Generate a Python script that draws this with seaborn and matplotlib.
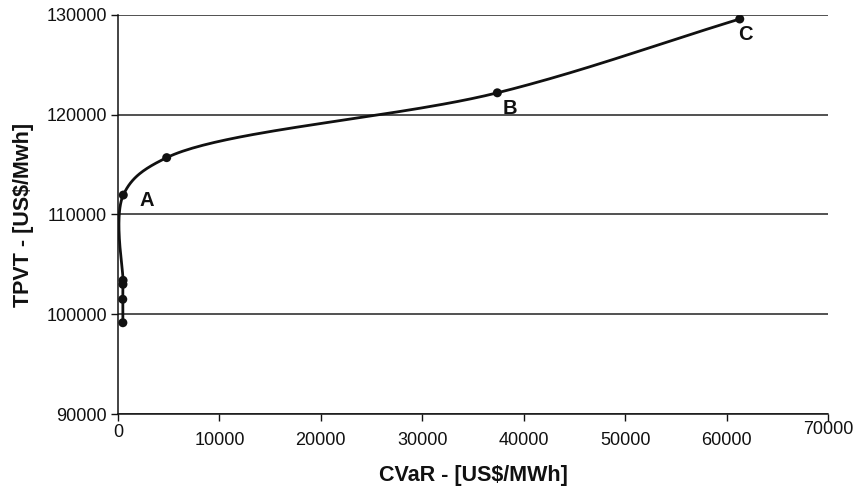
import numpy as np
import pandas as pd
import seaborn as sns
import matplotlib
matplotlib.use("Agg")
from matplotlib import pyplot as plt
from matplotlib.transforms import ScaledTranslation

# values
cvar = [480, 470, 490, 500, 520, 4800, 37400, 61300]
tpvt = [99150, 101500, 103000, 103400, 111950, 115700, 122200, 129600]
point_names = {4: "A", 6: "B", 7: "C"}
x_ticks = [0, 10000, 20000, 30000, 40000, 50000, 60000, 70000]
y_ticks = [90000, 100000, 110000, 120000, 130000]

sns.set_theme(style="white")
plt.rcParams['font.family'] = ['Liberation Sans', 'DejaVu Sans']

XMAX, YMIN, YMAX = 70000, 90000, 130000
W_PX, H_PX = 710, 399   # plot area in pixels, smoothing is done in screen space


def smooth(xs, ys, n=50, alpha=0.5):
    # smoothed line through the points (centripetal catmull-rom, screen space)
    p = np.column_stack([np.asarray(xs) / XMAX * W_PX,
                         (np.asarray(ys) - YMIN) / (YMAX - YMIN) * H_PX]).astype(float)
    p = np.vstack([2 * p[0] - p[1], p, 2 * p[-1] - p[-2]])
    out = []
    for i in range(1, len(p) - 2):
        p0, p1, p2, p3 = p[i - 1], p[i], p[i + 1], p[i + 2]
        t0 = 0.0
        t1 = t0 + np.linalg.norm(p1 - p0) ** alpha
        t2 = t1 + np.linalg.norm(p2 - p1) ** alpha
        t3 = t2 + np.linalg.norm(p3 - p2) ** alpha
        t = np.linspace(t1, t2, n)[:, None]
        a1 = (t1 - t) / (t1 - t0) * p0 + (t - t0) / (t1 - t0) * p1
        a2 = (t2 - t) / (t2 - t1) * p1 + (t - t1) / (t2 - t1) * p2
        a3 = (t3 - t) / (t3 - t2) * p2 + (t - t2) / (t3 - t2) * p3
        b1 = (t2 - t) / (t2 - t0) * a1 + (t - t0) / (t2 - t0) * a2
        b2 = (t3 - t) / (t3 - t1) * a2 + (t - t1) / (t3 - t1) * a3
        out.append((t2 - t) / (t2 - t1) * b1 + (t - t1) / (t2 - t1) * b2)
    out = np.vstack(out)
    return pd.DataFrame({'CVaR': out[:, 0] / W_PX * XMAX,
                         'TPVT': out[:, 1] / H_PX * (YMAX - YMIN) + YMIN})


df = pd.DataFrame({'CVaR': cvar, 'TPVT': tpvt})
curve = smooth(cvar, tpvt)

fig = plt.figure(figsize=(8.6, 4.9), dpi=100)
ax = fig.add_axes([118 / 860, 76 / 490, 710 / 860, 399 / 490])

sns.lineplot(data=curve, x='CVaR', y='TPVT', sort=False, estimator=None,
             color='#111111', linewidth=2.0, ax=ax)
sns.scatterplot(data=df, x='CVaR', y='TPVT', color='#111111', s=42,
                edgecolor='none', ax=ax, zorder=5)

label_offsets = {"A": (17, -4), "B": (9, -11), "C": (4, -11)}
for i, name in point_names.items():
    ax.annotate(name, (cvar[i], tpvt[i]), xytext=label_offsets[name], textcoords='offset points',
                ha='center', va='center', fontsize=14.5, fontweight='bold', color='#111111')

ax.set_xlim(0, XMAX)
ax.set_ylim(YMIN, YMAX)
ax.set_xticks(x_ticks)
ax.set_yticks(y_ticks)
ax.yaxis.grid(True, color='#222222', linewidth=1.1)
ax.set_axisbelow(True)
for s in ['top', 'right']:
    ax.spines[s].set_visible(False)
for s in ['left', 'bottom']:
    ax.spines[s].set_color('#111111')
    ax.spines[s].set_linewidth(1.1)
ax.tick_params(axis='both', direction='out', length=5, width=1, color='#111111',
               labelsize=13, labelcolor='#111111', bottom=True, left=True)
ax.tick_params(axis='x', pad=8)
ax.tick_params(axis='y', pad=3)

ax.set_xlabel('CVaR - [US$/MWh]', fontsize=15.5, fontweight='bold', color='#111111', va='center')
ax.set_ylabel('TPVT - [US$/Mwh]', fontsize=15.5, fontweight='bold', color='#111111', va='center')
ax.xaxis.set_label_coords(0.5, -61 / 399)
ax.yaxis.set_label_coords(-95 / 710, 0.5)

# excel staggers the end labels a bit higher
labels = ax.get_xticklabels()
for k, dy in ((0, 8), (len(labels) - 1, 11)):
    labels[k].set_transform(labels[k].get_transform() +
                            ScaledTranslation(0, dy / 100, fig.dpi_scale_trans))

fig.savefig('out.png', dpi=100)
